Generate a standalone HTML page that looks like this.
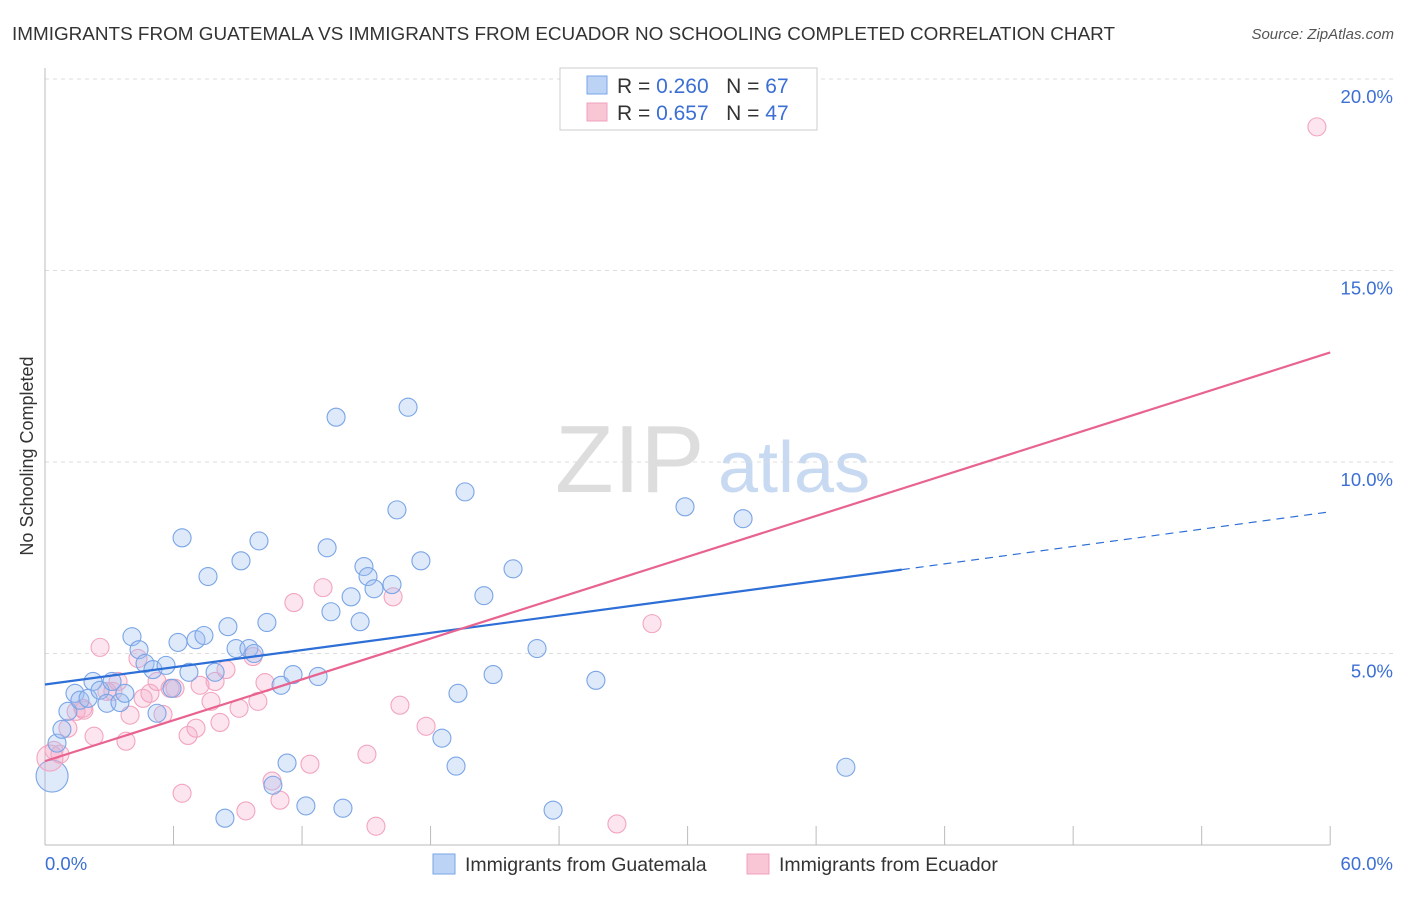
<!DOCTYPE html>
<html><head><meta charset="utf-8"><style>
body{margin:0;background:#fff;font-family:"Liberation Sans",sans-serif;}
svg text{font-family:"Liberation Sans",sans-serif;}
</style></head><body>
<svg id="chart" width="1406" height="892" viewBox="0 0 1406 892" xmlns="http://www.w3.org/2000/svg">
<text x="12" y="40" font-size="18.5" fill="#333" textLength="1103" lengthAdjust="spacingAndGlyphs">IMMIGRANTS FROM GUATEMALA VS IMMIGRANTS FROM ECUADOR NO SCHOOLING COMPLETED CORRELATION CHART</text>
<text x="1394" y="39" font-size="15" fill="#555" font-style="italic" text-anchor="end">Source: ZipAtlas.com</text>
<text x="33" y="456" font-size="18" fill="#333" text-anchor="middle" transform="rotate(-90 33 456)">No Schooling Completed</text>
<g><text x="555" y="492" font-size="96" fill="#ddd" font-family="Liberation Serif">ZIP</text><text x="718" y="492" font-size="72" fill="#c8d9f2">atlas</text></g>
<g id="grid"></g><g id="axes"></g><g id="marks"></g><g id="trends"></g>
<g>
<rect x="560" y="68" width="257" height="62" fill="#fff" stroke="#ccc"/>
<rect x="587" y="76" width="20" height="18" fill="#bcd3f5" stroke="#7aa5e6"/>
<rect x="587" y="103" width="20" height="18" fill="#f9c6d6" stroke="#f0a0bd"/>
<text x="617" y="93" font-size="21" fill="#333">R = <tspan fill="#3b6fd4">0.260</tspan>&#160;&#160;&#160;N = <tspan fill="#3b6fd4">67</tspan></text>
<text x="617" y="120" font-size="21" fill="#333">R = <tspan fill="#3b6fd4">0.657</tspan>&#160;&#160;&#160;N = <tspan fill="#3b6fd4">47</tspan></text>
</g>
<g>
<rect x="433" y="854" width="22" height="20" fill="#bcd3f5" stroke="#7aa5e6"/>
<text x="465" y="871" font-size="19.5" fill="#333">Immigrants from Guatemala</text>
<rect x="747" y="854" width="22" height="20" fill="#f9c6d6" stroke="#f0a0bd"/>
<text x="779" y="871" font-size="19.5" fill="#333">Immigrants from Ecuador</text>
</g>
</svg>
<script>
const blueX=[0.56,0.79,1.07,1.40,1.63,2.01,2.24,2.57,2.89,3.13,3.50,3.73,4.06,4.39,4.67,5.04,5.23,5.65,5.93,6.21,6.40,6.72,7.05,7.42,7.61,7.94,8.54,8.92,9.15,9.52,9.76,9.99,10.36,10.64,11.02,11.30,11.58,12.18,12.75,13.17,13.35,13.59,13.91,14.29,14.71,14.89,15.08,15.36,16.20,16.43,16.95,17.55,18.53,19.19,19.28,19.61,20.49,20.92,21.85,22.97,23.72,25.72,29.88,32.59,37.39,8.40];
const blueY=[2.66,3.02,3.49,3.96,3.78,3.83,4.27,4.04,3.70,4.27,3.72,3.96,5.44,5.10,4.74,4.58,3.44,4.69,4.09,5.29,8.02,4.51,5.36,5.47,7.01,4.51,5.70,5.13,7.42,5.13,5.00,7.94,5.81,1.56,4.17,2.14,4.45,1.02,4.40,7.76,6.09,11.17,0.96,6.48,5.83,7.27,7.01,6.69,6.80,8.75,11.43,7.42,2.79,2.06,3.96,9.22,6.51,4.45,7.21,5.13,0.91,4.30,8.83,8.52,2.03,0.70];
const pinkX=[0.42,0.70,1.07,1.45,1.82,2.29,2.57,3.17,3.41,3.78,3.97,4.34,4.58,4.90,5.23,5.51,5.84,6.07,6.40,6.68,7.05,7.24,7.75,7.94,8.17,8.45,9.06,9.38,9.71,9.94,10.27,10.60,10.97,11.62,12.37,12.98,15.03,15.45,16.25,16.57,17.79,26.70,28.34,59.38,2.89,1.77];
const pinkY=[2.47,2.37,3.05,3.49,3.52,2.84,5.16,4.01,4.27,2.71,3.39,4.87,3.83,3.96,4.27,3.41,4.09,4.09,1.35,2.86,3.05,4.17,3.75,4.27,3.20,4.58,3.57,0.89,4.92,3.75,4.24,1.67,1.17,6.33,2.11,6.72,2.37,0.49,6.48,3.65,3.10,0.55,5.78,18.75,4.01,3.57];
const bigX=[0.33,0.23];
const bigY=[1.80,2.27];
const yTicks=[5,10,15,20];
const xTickLabels=["0.0%","60.0%"];
const blueTrend=[4.19,7.19,8.70]; // at x=0, 40, 60
const pinkTrend=[2.19,12.86]; // at x=0, 60
const NS="http://www.w3.org/2000/svg";
const sx=v=>45+v*21.42, sy=v=>845-v*38.3;
function mk(t,a,p){const e=document.createElementNS(NS,t);for(const k in a)e.setAttribute(k,a[k]);document.getElementById(p).appendChild(e);return e;}
yTicks.forEach(t=>{
 const l=mk('line',{x1:45,x2:1394,y1:sy(t),y2:sy(t),stroke:'#ddd','stroke-dasharray':'4,4'},'grid');
 
 
 const tx=mk('text',{x:1393,y:sy(t)+24,'font-size':18.5,fill:'#3b6fd4','text-anchor':'end'},'grid');tx.textContent=t.toFixed(1)+'%';
 
 
});
let a=mk('line',{x1:45,x2:45,y1:68,y2:845,stroke:'#bbb'},'axes');


a=mk('line',{x1:45,x2:1330,y1:845,y2:845,stroke:'#bbb'},'axes');


for(let i=1;i<=10;i++){const t=mk('line',{x1:sx(i*6),x2:sx(i*6),y1:826,y2:845,stroke:'#bbb'},'axes');
 
 }
let xl=mk('text',{x:45,y:870,'font-size':18.5,fill:'#3b6fd4'},'axes');xl.textContent=xTickLabels[0];


xl=mk('text',{x:1393,y:870,'font-size':18.5,fill:'#3b6fd4','text-anchor':'end'},'axes');xl.textContent=xTickLabels[1];


function dot(x,y,r,c,n){const e=mk('circle',{cx:sx(x),cy:sy(y),r:r,fill:c[0],stroke:c[1],'stroke-width':1.1},'marks');
 
 }
const B=['rgba(160,192,242,0.35)','#7aa5e6'],P=['rgba(246,170,198,0.3)','#f2a5c0'];
dot(bigX[0],bigY[0],16,B,'guatemala-point');
dot(bigX[1],bigY[1],13,P,'ecuador-point');
pinkX.forEach((x,i)=>dot(x,pinkY[i],9,P,'ecuador-point'));
blueX.forEach((x,i)=>dot(x,blueY[i],9,B,'guatemala-point'));
let t=mk('line',{x1:sx(0),y1:sy(blueTrend[0]),x2:sx(40),y2:sy(blueTrend[1]),stroke:'#2d6fd6','stroke-width':2.2},'trends');


t=mk('line',{x1:sx(40),y1:sy(blueTrend[1]),x2:sx(60),y2:sy(blueTrend[2]),stroke:'#2d6fd6','stroke-width':1.2,'stroke-dasharray':'8,6'},'trends');


t=mk('line',{x1:sx(0),y1:sy(pinkTrend[0]),x2:sx(60),y2:sy(pinkTrend[1]),stroke:'#e8638f','stroke-width':2.2},'trends');


</script>
</body></html>
